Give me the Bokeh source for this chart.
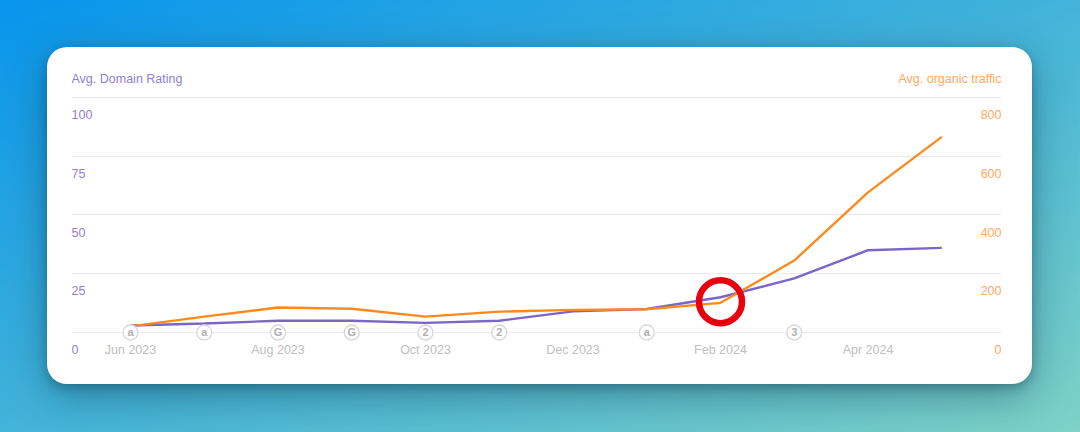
from bokeh.core.properties import value
from bokeh.embed import file_html
from bokeh.layouts import column
from bokeh.models import FixedTicker, Label, LinearAxis, Range1d
from bokeh.plotting import figure
from bokeh.resources import INLINE

months = list(range(12))
domain_rating = [3.0, 3.8, 5.0, 5.0, 4.1, 5.0, 9.0, 10.0, 15.0, 23.0, 35.0, 36.0]
organic_traffic = [21, 54, 85, 81, 54, 71, 77, 79, 101, 245, 477, 666]

month_ticks = [0, 2, 4, 6, 8, 10]
month_labels = ["Jun 2023", "Aug 2023", "Oct 2023", "Dec 2023", "Feb 2024", "Apr 2024"]
rating_ticks = [0, 25, 50, 75, 100]
traffic_ticks = [0, 200, 400, 600, 800]

update_months = [0, 1, 2, 3, 4, 5, 7, 9]
update_labels = ["a", "a", "G", "G", "2", "2", "a", "3"]
crossover_month = 8
crossover_rating = 13.1

PURPLE = "#7a66c9"
PURPLE_TEXT = "#8f80d6"
ORANGE = "#ff8a1c"
ORANGE_TEXT = "#ffa85f"
GREY_TEXT = "#c0c0c0"
FONT = "Liberation Sans"
X_START, X_END = -0.80, 11.81

p = figure(width=985, height=337,
           output_backend="svg",
           toolbar_location=None,
           x_range=Range1d(X_START, X_END),
           y_range=Range1d(-11.915, 113.6),
           y_axis_location=None,
           min_border_left=24, min_border_right=31,
           min_border_top=18, min_border_bottom=24,
           background_fill_alpha=0, border_fill_alpha=0,
           outline_line_color=None,
           margin=(47, 0, 0, 47),
           styles={"background": "white", "border-radius": "20px",
                   "box-shadow": "0 4px 10px rgba(10, 50, 70, 0.3), 0 12px 42px rgba(10, 50, 70, 0.4)"})

p.extra_y_ranges = {"traffic": Range1d(-95.3, 908.9),
                    "rating_labels": Range1d(-4.68, 120.85),
                    "traffic_labels": Range1d(-37.4, 966.8)}

p.xgrid.visible = False
p.ygrid.ticker = FixedTicker(ticks=rating_ticks)
p.ygrid.grid_line_color = "#ebebeb"
p.ygrid.grid_line_width = 1

xaxis = p.xaxis[0]
xaxis.ticker = FixedTicker(ticks=month_ticks)
xaxis.major_label_overrides = dict(zip(month_ticks, month_labels))
xaxis.major_label_standoff = -18
xaxis.major_tick_out = 0
xaxis.major_label_text_color = GREY_TEXT
xaxis.major_label_text_font = FONT
xaxis.major_label_text_font_size = "12.5px"
xaxis.axis_line_color = None
xaxis.major_tick_line_color = None
xaxis.minor_tick_line_color = None

# the labels sit inside the plot, so each axis is pinned to the far edge
rating_axis = LinearAxis(y_range_name="rating_labels", ticker=FixedTicker(ticks=rating_ticks),
                         fixed_location=X_START)
traffic_axis = LinearAxis(y_range_name="traffic_labels", ticker=FixedTicker(ticks=traffic_ticks),
                          fixed_location=X_END)
for axis, colour in [(rating_axis, PURPLE_TEXT), (traffic_axis, ORANGE_TEXT)]:
    axis.major_label_standoff = 0
    axis.major_tick_out = 0
    axis.major_label_text_color = colour
    axis.major_label_text_font = FONT
    axis.major_label_text_font_size = "12.5px"
    axis.axis_line_color = None
    axis.major_tick_line_color = None
    axis.minor_tick_line_color = None
p.add_layout(rating_axis, "right")
p.add_layout(traffic_axis, "left")

p.line(months, domain_rating, line_color=PURPLE, line_width=2.4)
p.line(months, organic_traffic, line_color=ORANGE, line_width=2.4, y_range_name="traffic")

p.scatter(update_months, [0] * len(update_months), size=15,
          fill_color="white", line_color="#d8d8d8", line_width=1.4)
p.text(update_months, [0] * len(update_months), text=update_labels,
       text_align="center", text_baseline="middle", text_color="#b0b0b0",
       text_font=value(FONT), text_font_style="bold", text_font_size="11px")

p.scatter([crossover_month], [crossover_rating], size=43,
          fill_color=None, line_color="#e8000f", line_width=6.5)

p.add_layout(Label(x=X_START, y=107.7, text="Avg. Domain Rating",
                   text_color=PURPLE_TEXT, text_font=FONT, text_font_size="12.5px",
                   text_align="left", text_baseline="middle"))
p.add_layout(Label(x=X_END, y=107.7, text="Avg. organic traffic",
                   text_color=ORANGE_TEXT, text_font=FONT, text_font_size="12.5px",
                   text_align="right", text_baseline="middle"))

page = column(p, width=1080, height=432,
              styles={"background": "linear-gradient(to bottom right, #0795ec, #7ed2c6)"})

open("out.html", "w").write(file_html(page, INLINE))
